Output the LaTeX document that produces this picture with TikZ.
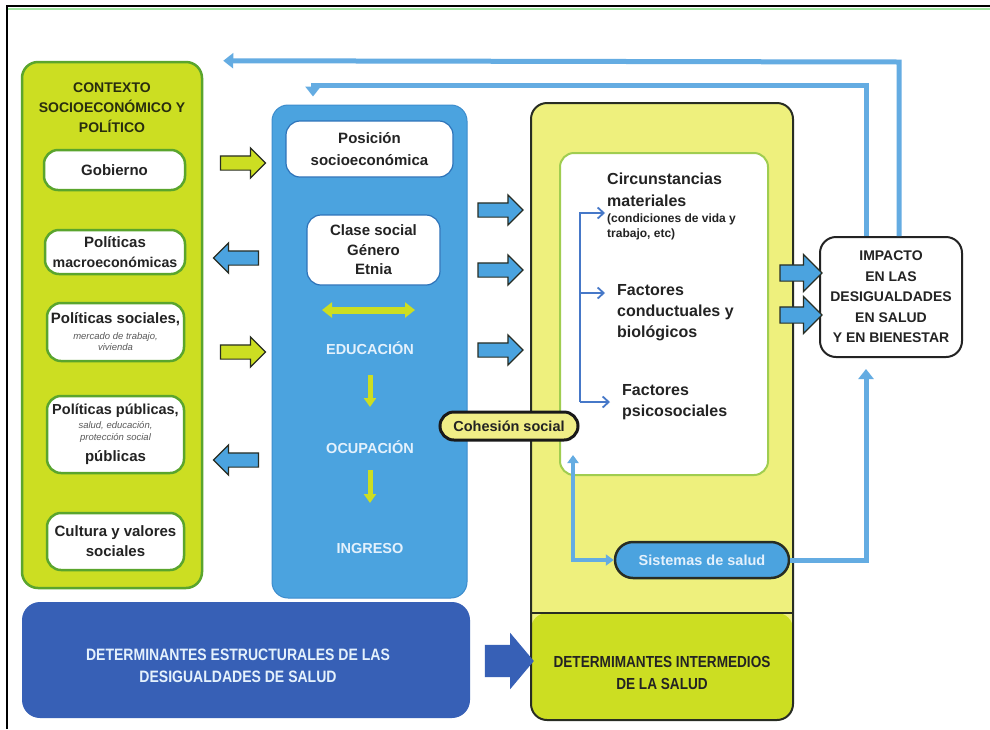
\documentclass[tikz,border=0pt]{standalone}
\usepackage{fontspec}
\setmainfont{Liberation Sans}
\newfontfamily\narrowfont[FakeStretch=0.85]{Liberation Sans}
\usetikzlibrary{shapes.arrows,arrows.meta}

\definecolor{limec}{RGB}{204,222,34}
\definecolor{limeborder}{RGB}{90,165,45}
\definecolor{midblue}{RGB}{75,163,223}
\definecolor{midblueedge}{RGB}{60,140,205}
\definecolor{darkblue}{RGB}{55,96,182}
\definecolor{paleyellow}{RGB}{238,240,125}
\definecolor{lineblue}{RGB}{100,172,226}
\definecolor{bracketblue}{RGB}{70,120,200}
\definecolor{darktext}{RGB}{35,35,35}
\definecolor{olivetext}{RGB}{40,45,15}
\definecolor{paletext}{RGB}{228,241,252}
\definecolor{innerborder}{RGB}{160,205,80}
\definecolor{cohfill}{RGB}{240,238,135}
\definecolor{framegreen}{RGB}{160,230,160}
\definecolor{edgedark}{RGB}{40,45,35}
\definecolor{wbedge}{RGB}{45,115,185}

\newcommand\bigbold{\fontsize{15}{20}\selectfont\bfseries}
\newcommand\smallit{\fontsize{9.5}{11}\selectfont\mdseries\itshape\color{black!65}}
\newcommand\condfont{\fontsize{12}{15}\selectfont\bfseries}

\begin{document}
\begin{tikzpicture}[x=1pt,y=-1pt,
  ctxbox/.style={draw=limeborder, line width=2.5pt, fill=limec, rounded corners=16pt, inner sep=0pt},
  whitebox/.style={draw=limeborder, line width=2.5pt, fill=white, rounded corners=14pt, inner sep=0pt, align=center, font=\bigbold, text=darktext},
  titletext/.style={font=\fontsize{14}{20}\selectfont\bfseries, text=olivetext, align=center},
  bluebox/.style={draw=midblueedge, line width=1pt, fill=midblue, rounded corners=16pt, inner sep=0pt},
  whiteblue/.style={draw=wbedge, line width=1.2pt, fill=white, rounded corners=14pt, inner sep=0pt, align=center, text=darktext},
  paletxt/.style={font=\fontsize{14.5}{18}\selectfont\bfseries, text=paletext},
  blockarrow/.style={single arrow, draw=edgedark, line width=1.2pt, inner xsep=0pt, inner ysep=6.5pt, minimum height=45pt, single arrow head extend=8pt},
  greenarrow/.style={blockarrow, fill=limec},
  bluearrow/.style={blockarrow, fill=midblue},
  interbox/.style={draw=edgedark, line width=2pt, fill=paleyellow, rounded corners=16pt, inner sep=0pt,
    path picture={\fill[limec] ([yshift=107pt]path picture bounding box.south west) rectangle (path picture bounding box.south east);
      \draw[edgedark, line width=2pt] ([yshift=107pt]path picture bounding box.south west) -- ([yshift=107pt]path picture bounding box.south east);}},
  innerbox/.style={draw=innerborder, line width=2pt, fill=white, rounded corners=14pt, inner sep=0pt},
  factxt/.style={font=\fontsize{16}{21}\selectfont\bfseries, text=darktext, align=left, inner sep=0pt},
  cohbox/.style={draw=black!90, line width=3pt, fill=cohfill, rounded corners=14pt, inner sep=0pt, font=\fontsize{14.5}{18}\selectfont\bfseries, text=darktext},
  sisbox/.style={draw=edgedark, line width=2.5pt, fill=midblue, rounded corners=18pt, inner sep=0pt, font=\fontsize{14.5}{18}\selectfont\bfseries, text=paletext},
  impbox/.style={draw=darktext, line width=2pt, fill=white, rounded corners=16pt, inner sep=0pt, align=center, font=\fontsize{14}{20.5}\selectfont\bfseries, text=darktext},
  estbox/.style={fill=darkblue, rounded corners=18pt, inner sep=0pt},
  esttext/.style={font=\narrowfont\fontsize{16.5}{22}\selectfont\bfseries, text=paletext, align=center},
  intertext/.style={font=\narrowfont\fontsize{16}{22}\selectfont\bfseries, text=darktext, align=center},
  bigarrow/.style={single arrow, fill=darkblue, inner xsep=0pt, inner ysep=16pt, minimum height=49pt, single arrow head extend=12pt, single arrow tip angle=100},
  fbline/.style={lineblue, line width=5pt, -{Triangle[length=10pt,width=15pt]}},
  linkblue/.style={lineblue, line width=3.5pt},
  bracket/.style={bracketblue, line width=1.8pt},
  greenflow/.style={limec, line width=5pt, -{Triangle[length=9pt,width=12pt]}}
]
\useasboundingbox (0,0) rectangle (990,729);
\fill[white] (0,0) rectangle (990,729);
% frame
\draw[black, line width=2pt] (7,729) -- (7,6) -- (990,6);
\draw[framegreen, line width=2pt] (8,9) -- (990,9);

% left context column
\node[ctxbox, minimum width=180pt, minimum height=526pt] (ctx) at (112,325) {};
\node[titletext] (ctxtitle) at (112,108) {CONTEXTO\\SOCIOECONÓMICO Y\\POLÍTICO};
\node[whitebox, minimum width=141pt, minimum height=40pt] (gob) at (114.5,170) {Gobierno};
\node[whitebox, minimum width=140pt, minimum height=44pt] (macro) at (115,252) {Políticas\\{\fontsize{14.2}{20}\selectfont macroeconómicas}};
\node[whitebox, minimum width=137pt, minimum height=58pt] (soc) at (115.5,332) {Políticas sociales,\\[-4pt]{\smallit mercado de trabajo,}\\[-9pt]{\smallit vivienda}};
\node[whitebox, minimum width=137pt, minimum height=77pt] (pub) at (115.5,434.5) {{\fontsize{14.5}{20}\selectfont Políticas públicas,}\\[-6.5pt]{\smallit salud, educación,}\\[-8pt]{\smallit protección social}\\[1.5pt]públicas};
\node[whitebox, minimum width=137pt, minimum height=57pt] (cul) at (115.5,541.5) {Cultura y valores\\sociales};

% arrows between context and position
\node[greenarrow] (g1) at (239.5,163) {};
\node[bluearrow, shape border rotate=180] (b1) at (239.5,258) {};
\node[greenarrow] (g2) at (239.5,352) {};
\node[bluearrow, shape border rotate=180] (b2) at (239.5,460) {};

% position box
\node[bluebox, minimum width=195pt, minimum height=493pt] (pos) at (369.5,351.5) {};
\node[whiteblue, minimum width=167pt, minimum height=56pt, font=\fontsize{15}{21.5}\selectfont\bfseries] (posse) at (369.5,149) {Posición\\socioeconómica};
\node[whiteblue, minimum width=133pt, minimum height=70pt, font=\fontsize{15}{19.5}\selectfont\bfseries] (clase) at (373.5,250) {Clase social\\Género\\Etnia};
\coordinate (dblL) at (322,310);
\coordinate (dblR) at (415,310);
\draw[limec, line width=7pt, {Triangle[length=10pt,width=15pt]}-{Triangle[length=10pt,width=15pt]}] (dblL) -- (dblR);
\node[paletxt] (edu) at (370,348) {EDUCACIÓN};
\node[paletxt] (ocu) at (370,447) {OCUPACIÓN};
\node[paletxt] (ing) at (370,548) {INGRESO};
\draw[greenflow, shorten <=27pt, shorten >=40pt] (edu.center) -- (ocu.center);
\draw[greenflow, shorten <=23pt, shorten >=45pt] (ocu.center) -- (ing.center);

% arrows to intermediate
\node[bluearrow] (r1) at (497,210) {};
\node[bluearrow] (r2) at (497,270) {};
\node[bluearrow] (r3) at (497,350) {};

% intermediate determinants
\node[interbox, minimum width=262pt, minimum height=617pt] (inter) at (662,411.5) {};
\node[intertext] (intxt) at (662,673) {DETERMIMANTES INTERMEDIOS\\DE LA SALUD};
\node[innerbox, minimum width=208pt, minimum height=322pt] (circbox) at (664,314) {};
\node[factxt, anchor=west] (circtxt) at (607,206) {Circunstancias\\[1pt]materiales\\[-5pt]{\condfont (condiciones de vida y}\\[-6pt]{\condfont trabajo, etc)}};
\node[factxt, anchor=west] (condtxt) at (617,313) {Factores\\conductuales y\\biológicos};
\node[factxt, anchor=west] (psictxt) at (622,402) {Factores\\psicosociales};
\coordinate (bT) at (580,213);
\coordinate (bM) at (580,293);
\coordinate (bB) at (580,402);
\draw[bracket, -{Straight Barb[length=6pt,width=11pt]}] (bB) -- (bT) -- ([xshift=-2pt]bT -| circtxt.west);
\draw[bracket, -{Straight Barb[length=6pt,width=11pt]}] (bM) -- ([xshift=-12pt]bM -| condtxt.west);
\draw[bracket, -{Straight Barb[length=6pt,width=11pt]}] (bB) -- ([xshift=-12pt]bB -| psictxt.west);

\node[cohbox, minimum width=138pt, minimum height=28pt] (coh) at (509,426) {Cohesión social};
\node[sisbox, minimum width=174pt, minimum height=36pt] (sis) at (702,560) {Sistemas de salud};
\coordinate (cup) at (573,455);
\draw[linkblue, {Triangle[length=8pt,width=11pt]}-{Triangle[length=8pt,width=11pt]}] (cup) |- (sis.west);

% impact
\node[impbox, minimum width=142pt, minimum height=120pt] (imp) at (891,297) {IMPACTO\\EN LAS\\DESIGUALDADES\\EN SALUD\\Y EN BIENESTAR};
\node[bluearrow, minimum height=42pt, inner ysep=7.5pt, single arrow head extend=10.5pt] (i1) at (797,273) {};
\node[bluearrow, minimum height=42pt, inner ysep=7.5pt, single arrow head extend=10.5pt] (i2) at (797,315) {};
\coordinate (rx) at (866,0);
\draw[fbline] (sis.east) -| ([yshift=-11pt]imp.south -| rx);

% feedback lines
\coordinate (fx1) at (899,62);
\coordinate (fx2) at (866,85);
\coordinate (fx3) at (313,85);
\draw[fbline] (imp.north -| fx1) -- (fx1) -- ([xshift=20pt]ctx.north east);
\draw[fbline] (imp.north -| fx2) -- (fx2) -- (fx3) -- ([yshift=8pt]pos.north -| fx3);

% structural determinants
\node[estbox, minimum width=448pt, minimum height=116pt] (est) at (246,660) {};
\node[esttext] (esttxt) at (238,666) {DETERMINANTES ESTRUCTURALES DE LAS\\DESIGUALDADES DE SALUD};
\node[bigarrow] (bigarr) at (502.5,661) {};
\end{tikzpicture}
\end{document}
